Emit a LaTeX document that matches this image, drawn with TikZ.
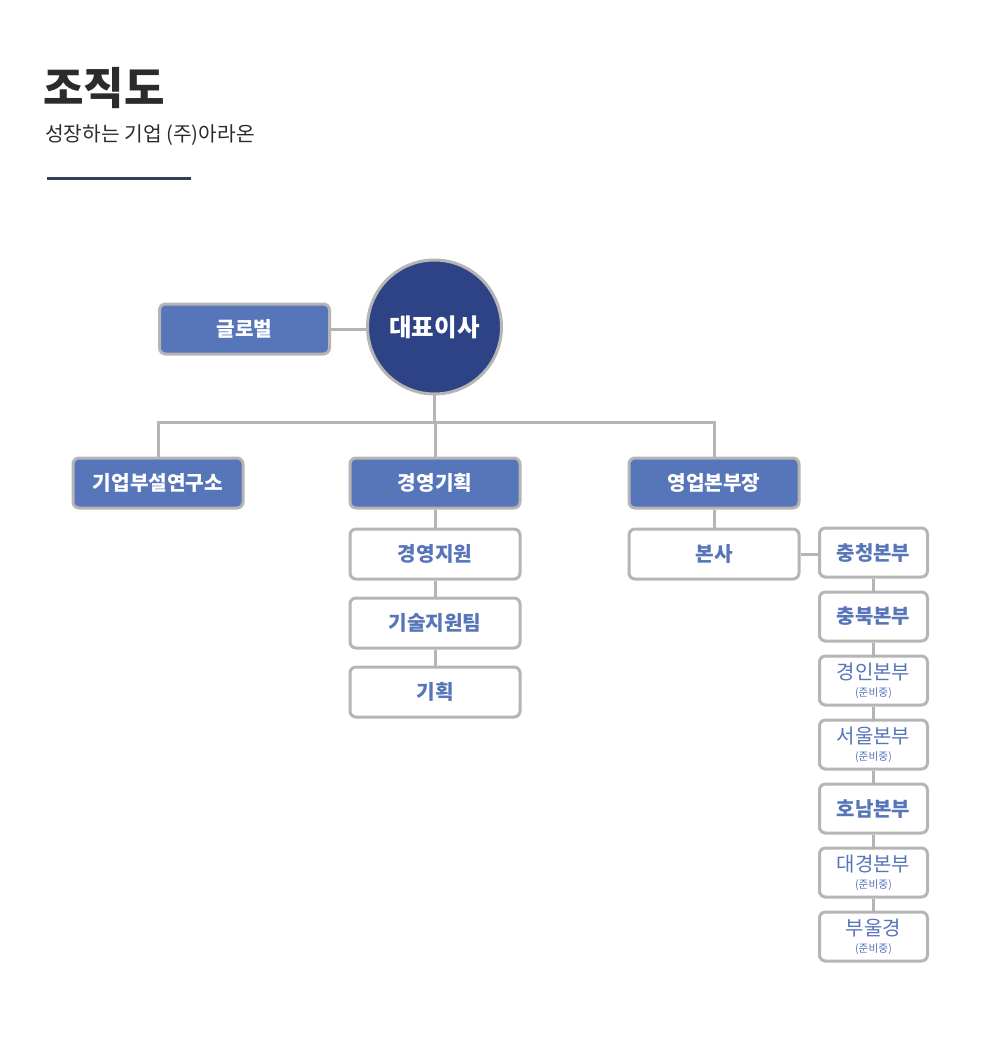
\documentclass[tikz,border=0pt]{standalone}
\usepackage{fontspec}
\usetikzlibrary{backgrounds}
\setmainfont{Noto Sans CJK KR}
\newfontfamily\kr{Noto Sans CJK KR}
\definecolor{boxblue}{RGB}{87,117,185}
\definecolor{ceoblue}{RGB}{45,67,133}
\definecolor{bordergray}{RGB}{181,181,181}
\definecolor{titlegray}{RGB}{43,43,43}
\definecolor{rulenavy}{RGB}{51,63,85}
\begin{document}
\begin{tikzpicture}[x=1pt,y=-1pt,
  base/.style={draw=bordergray,line width=3pt,rounded corners=6pt,inner sep=0pt,align=center},
  bluebox/.style={base,fill=boxblue,text=white,minimum width=170pt,minimum height=50pt,font=\kr\bfseries\fontsize{20.2}{22}\selectfont},
  whitebox/.style={base,fill=white,text=boxblue,minimum width=170pt,minimum height=50pt,font=\kr\bfseries\fontsize{20.2}{22}\selectfont},
  sidebox/.style={base,fill=white,text=boxblue,minimum width=108pt,minimum height=49pt,font=\kr\bfseries\fontsize{20}{22}\selectfont},
  prepbox/.style={base,fill=white,text=boxblue,minimum width=108pt,minimum height=49pt,font=\kr\fontsize{20}{18}\selectfont},
  conn/.style={draw=bordergray,line width=3pt}
]
\useasboundingbox (0,0) rectangle (1000,1049);
% title
\node[anchor=west,inner sep=0pt,text=titlegray,font=\kr\bfseries\fontsize{44}{46}\selectfont] (title) at (43,88) {조직도};
\node[anchor=west,inner sep=0pt,text=titlegray,font=\kr\fontsize{20.3}{22}\selectfont] (subtitle) at (45,135) {성장하는 기업 (주)아라온};
\draw[rulenavy,line width=3pt] (47,178) -- (191,178);

% CEO
\node[circle,draw=bordergray,line width=3pt,fill=ceoblue,text=white,minimum size=134pt,inner sep=0pt,font=\kr\bfseries\fontsize{24.5}{26}\selectfont] (ceo) at (434.5,327) {대표이사};
\node[bluebox] (global) at (244.5,329) {글로벌};

\node[bluebox] (lab) at (158,483) {기업부설연구소};
\node[bluebox] (plan) at (435,483) {경영기획};
\node[bluebox] (sales) at (714,483) {영업본부장};

\node[whitebox] (support) at (435,554) {경영지원};
\node[whitebox] (tech) at (435,623) {기술지원팀};
\node[whitebox] (gihoek) at (435,692) {기획};
\node[whitebox] (hq) at (714,554) {본사};

\node[sidebox] (r1) at (873.5,552.5) {충청본부};
\node[sidebox] (r2) at (873.5,616.5) {충북본부};
\node[prepbox] (r3) at (873.5,680.5) {경인본부\\[-1pt]{\fontsize{10.7}{11}\selectfont (준비중)}};
\node[prepbox] (r4) at (873.5,744.5) {서울본부\\[-1pt]{\fontsize{10.7}{11}\selectfont (준비중)}};
\node[sidebox] (r5) at (873.5,808.5) {호남본부};
\node[prepbox] (r6) at (873.5,872.5) {대경본부\\[-1pt]{\fontsize{10.7}{11}\selectfont (준비중)}};
\node[prepbox] (r7) at (873.5,936.5) {부울경\\[-1pt]{\fontsize{10.7}{11}\selectfont (준비중)}};

% connectors
\begin{scope}[on background layer]
\coordinate (j) at (435,422);
\draw[conn] (global.east) -- (global.east -| ceo.center);
\draw[conn] (ceo.center) -- (ceo.center |- j);
\draw[conn] (lab.north) |- (j) -| (sales.north);
\draw[conn] (j) -- (plan.north);
\draw[conn] (plan.south) -- (support.north);
\draw[conn] (support.south) -- (tech.north);
\draw[conn] (tech.south) -- (gihoek.north);
\draw[conn] (sales.south) -- (hq.north);
\draw[conn] (hq.east) -- (hq.east -| r1.west);
\draw[conn] (r1.south) -- (r2.north);
\draw[conn] (r2.south) -- (r3.north);
\draw[conn] (r3.south) -- (r4.north);
\draw[conn] (r4.south) -- (r5.north);
\draw[conn] (r5.south) -- (r6.north);
\draw[conn] (r6.south) -- (r7.north);
\end{scope}
\end{tikzpicture}
\end{document}
